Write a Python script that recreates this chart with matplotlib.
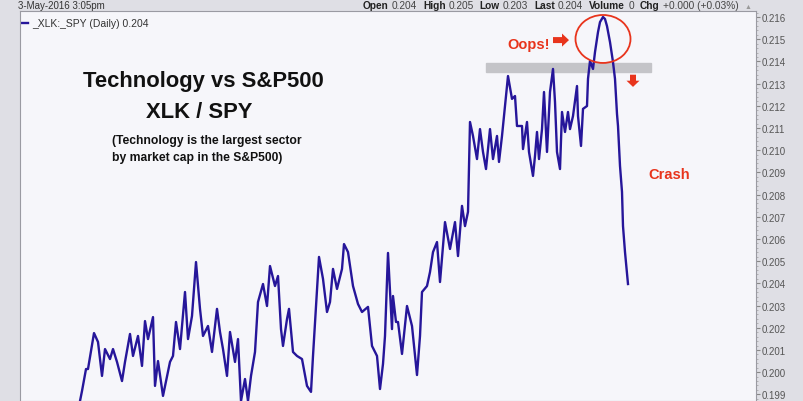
"""
XLK / SPY daily ratio chart, redrawn from a StockCharts screenshot.
"""

import matplotlib
matplotlib.use("Agg")
from matplotlib import pyplot as plt
from matplotlib.patches import Ellipse, Rectangle, FancyArrow
from matplotlib.ticker import MultipleLocator, FormatStrFormatter

# trading-day offset from the first visible bar
day = [0, 2, 6, 8, 14, 18, 22, 25, 30, 33,
       37, 42, 45, 50, 53, 58, 62, 65, 68, 73,
       75, 78, 83, 90, 93, 96, 100, 105, 108, 112,
       116, 120, 123, 128, 132, 137, 140, 143, 147, 150,
       155, 158, 161, 165, 168, 171, 175, 178, 183, 187,
       190, 195, 198, 201, 203, 207, 209, 213, 217, 222,
       227, 231, 233, 239, 243, 247, 250, 253, 257, 262,
       264, 268, 273, 278, 282, 288, 292, 297, 300, 303,
       305, 308, 312, 313, 316, 318, 322, 327, 332, 337,
       340, 342, 347, 350, 353, 357, 360, 365, 370, 375,
       378, 382, 385, 388, 390, 393, 397, 400, 403, 406,
       410, 413, 417, 419, 422, 425, 428, 432, 435, 437,
       442, 443, 447, 449, 453, 455, 457, 459, 462, 464,
       467, 470, 473, 475, 477, 480, 482, 485, 488, 490,
       493, 497, 498, 501, 503, 507, 508, 510, 513, 515,
       518, 520, 523, 525, 527, 530, 533, 535, 537, 538,
       540, 542, 543, 545, 548]

# XLK:SPY close
ratio = [0.19870, 0.19915, 0.20014, 0.20014, 0.20176, 0.20136, 0.19983, 0.20104, 0.20059, 0.20104,
         0.20046, 0.19960, 0.20046, 0.20172, 0.20073, 0.20163, 0.20028, 0.20230, 0.20149, 0.20248,
         0.19938, 0.20050, 0.19893, 0.20046, 0.20073, 0.20226, 0.20104, 0.20361, 0.20149, 0.20253,
         0.20496, 0.20285, 0.20163, 0.20208, 0.20091, 0.20285, 0.20181, 0.20104, 0.19983, 0.20181,
         0.20046, 0.20149, 0.19870, 0.19969, 0.19870, 0.19983, 0.20091, 0.20316, 0.20397, 0.20298,
         0.20478, 0.20388, 0.20433, 0.20194, 0.20118, 0.20239, 0.20285, 0.20091, 0.20073, 0.20059,
         0.19938, 0.19911, 0.20073, 0.20519, 0.20420, 0.20271, 0.20316, 0.20465, 0.20375, 0.20465,
         0.20577, 0.20541, 0.20388, 0.20307, 0.20271, 0.20294, 0.20118, 0.20073, 0.19924, 0.20037,
         0.20163, 0.20537, 0.20194, 0.20343, 0.20226, 0.20226, 0.20082, 0.20298, 0.20208, 0.19987,
         0.20163, 0.20361, 0.20388, 0.20451, 0.20541, 0.20586, 0.20406, 0.20676, 0.20555, 0.20676,
         0.20523, 0.20749, 0.20658, 0.20722, 0.21127, 0.21064, 0.20960, 0.21095, 0.20992, 0.20915,
         0.21095, 0.20960, 0.21064, 0.20947, 0.21064, 0.21199, 0.21334, 0.21231, 0.21244, 0.21109,
         0.21109, 0.21005, 0.21127, 0.20992, 0.20884, 0.20974, 0.21082, 0.20960, 0.21095, 0.21262,
         0.20992, 0.21262, 0.21366, 0.21217, 0.20992, 0.20915, 0.21172, 0.21082, 0.21172, 0.21095,
         0.21154, 0.21289, 0.21154, 0.21019, 0.21186, 0.21199, 0.21321, 0.21402, 0.21366, 0.21442,
         0.21532, 0.21577, 0.21600, 0.21591, 0.21559, 0.21487, 0.21397, 0.21321, 0.21163, 0.21109,
         0.20929, 0.20812, 0.20658, 0.20541, 0.20397]

header_labels = ["Open", "High", "Low", "Last", "Volume", "Chg"]
header_values = ["0.204", "0.205", "0.203", "0.204", "0", "+0.000 (+0.03%)"]

FONT = ["Liberation Sans", "DejaVu Sans"]
LINE = "#26169a"
RED = "#e8341c"
W, H = 804, 402

if __name__ == "__main__":
    plt.rcParams["font.family"] = FONT
    fig = plt.figure(figsize=(W / 100, H / 100), dpi=100, facecolor="#dfdfe5")
    # plot frame: x 20..756 px, y 12 px down to the bottom edge
    ax = fig.add_axes([20 / W, 0, 736 / W, 1 - 12 / H])
    ax.set_facecolor("#f6f6fa")
    ax.plot(day, ratio, color=LINE, lw=1.7, zorder=3)
    ax.set_xlim(-60, 676)
    ax.set_ylim(0.19870, 0.21627)

    # price scale on the right
    ax.yaxis.tick_right()
    ax.yaxis.set_major_locator(MultipleLocator(0.001))
    ax.yaxis.set_minor_locator(MultipleLocator(0.0002))
    ax.yaxis.set_major_formatter(FormatStrFormatter("%.3f"))
    ax.tick_params(axis="y", which="major", labelsize=7, labelcolor="#555555",
                   length=3, pad=1, color="#888888")
    ax.tick_params(axis="y", which="minor", length=1.5, color="#aaaaaa")
    ax.tick_params(axis="x", bottom=False, labelbottom=False)
    for s in ax.spines.values():
        s.set_color("#9a9aa2")
        s.set_linewidth(0.8)

    # legend entry
    ax.plot([-58, -52], [0.21575, 0.21575], color=LINE, lw=1.7)
    ax.text(-48, 0.21575, "_XLK:_SPY (Daily) 0.204", fontsize=7.5,
            color="#333333", va="center")

    # resistance band, target circle and arrows
    ax.add_patch(Rectangle((406, 0.21352), 165, 0.00041, color="#c4c4c8", zorder=2))
    ax.add_patch(Ellipse((523, 0.21501), 55, 0.00216, fill=False,
                         edgecolor=RED, lw=1.3, zorder=4))
    ax.add_patch(FancyArrow(473, 0.21496, 9, 0, width=0.00027, head_width=0.00059,
                            head_length=7, color=RED, lw=0, zorder=4))
    ax.add_patch(FancyArrow(553, 0.21340, 0, -0.00027, width=6, head_width=13,
                            head_length=0.00028, color=RED, lw=0, zorder=4))

    # chart captions
    ax.text(123.5, 0.21289, "Technology vs S&P500", fontsize=15.8,
            fontweight="bold", ha="center", va="baseline", color="#111111")
    ax.text(119.5, 0.21150, "XLK / SPY", fontsize=15.8,
            fontweight="bold", ha="center", va="baseline", color="#111111")
    ax.text(32, 0.21032, "(Technology is the largest sector", fontsize=8.7,
            fontweight="bold", va="baseline", color="#111111")
    ax.text(32, 0.20956, "by market cap in the S&P500)", fontsize=8.7,
            fontweight="bold", va="baseline", color="#111111")
    ax.text(427, 0.21460, "Oops!", fontsize=10.5, fontweight="bold",
            va="baseline", color=RED)
    ax.text(568, 0.20875, "Crash", fontsize=10.5, fontweight="bold",
            va="baseline", color=RED)

    # header strip above the frame
    hy = 1 - 9 / H
    fig.text(18 / W, hy, "3-May-2016 3:05pm", fontsize=7, color="#333333")
    renderer = fig.canvas.get_renderer()
    x = 363
    for label, value in zip(header_labels, header_values):
        t = fig.text(x / W, hy, label, fontsize=7.3, fontweight="bold", color="#222222")
        x += t.get_window_extent(renderer).width + 3
        t = fig.text(x / W, hy, value, fontsize=7.3, color="#444444")
        x += t.get_window_extent(renderer).width + 6
    fig.text(x / W, hy, "\u25b2", fontsize=5, color="#999999")

    fig.savefig("out.png", dpi=100, facecolor=fig.get_facecolor())
